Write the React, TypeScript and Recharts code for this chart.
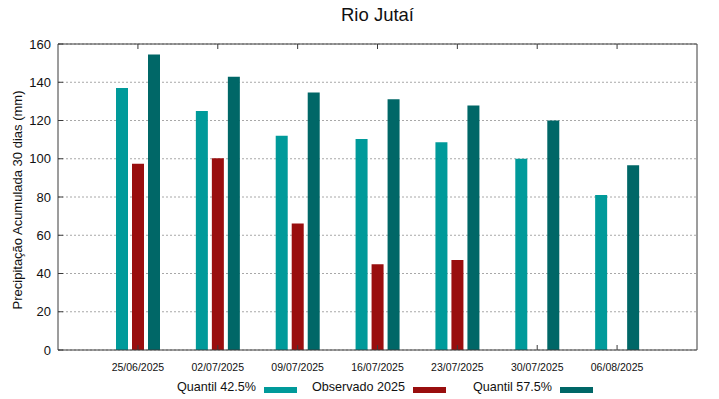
import React from 'react';
import {
  BarChart,
  Bar,
  XAxis,
  YAxis,
  CartesianGrid,
} from 'recharts';

// dates of each 30-day window
const DATES = ['25/06/2025', '02/07/2025', '09/07/2025', '16/07/2025', '23/07/2025', '30/07/2025', '06/08/2025'];
const Q425 = [137, 125, 112, 110.3, 108.6, 100, 81];
const OBS2025 = [97.4, 100.3, 66.2, 44.8, 47.1, null, null];
const Q575 = [154.5, 142.9, 134.6, 131.1, 127.8, 120, 96.6];
const Y_TICKS = [0, 20, 40, 60, 80, 100, 120, 140, 160];

const SERIES = [
  { key: 'q425', name: 'Quantil 42.5%', color: '#009a9a' },
  { key: 'obs', name: 'Observado 2025', color: '#990e0e' },
  { key: 'q575', name: 'Quantil 57.5%', color: '#006767' },
];

const chartData = DATES.map((d, i) => ({
  date: d,
  q425: Q425[i],
  obs: OBS2025[i],
  q575: Q575[i],
}));

const FONT = '"Liberation Sans", Arial, sans-serif';
const AXIS = '#3a3a3a';

// legend item positions (x where the text ends), gnuplot style key
const LEGEND_X = [256, 405, 552];

// mirrored axes: tick marks only, no labels
const NoLabel = () => <g />;

function YLabel() {
  return (
    <text
      x={17}
      y={200}
      transform="rotate(-90 17 200)"
      textAnchor="middle"
      dominantBaseline="central"
      fontFamily={FONT}
      fontSize={13}
      fill="#111"
    >
      Precipitação Acumulada 30 dias (mm)
    </text>
  );
}

export default function App() {
  return (
    <div style={{ position: 'absolute', left: 0, top: 0, width: 719, height: 399, background: '#fff', fontFamily: FONT }}>
      <div
        style={{
          position: 'absolute',
          left: 0,
          width: 755,
          top: 4,
          textAlign: 'center',
          fontSize: 18.5,
          color: '#111',
        }}
      >
        Rio Jutaí
      </div>
      <BarChart
        width={719}
        height={399}
        data={chartData}
        margin={{ top: 43, right: 21, bottom: 19, left: 0 }}
        barSize={12}
        barGap={4}
      >
        <CartesianGrid
          horizontal
          vertical={false}
          strokeDasharray="2 2"
          stroke="#a8a8a8"
        />
        <XAxis
          dataKey="date"
          height={30}
          padding={{ left: 40, right: 40 }}
          tick={{ fill: '#111', fontSize: 10.5, fontFamily: FONT }}
          tickSize={-5}
          tickMargin={19}
          interval={0}
          axisLine={{ stroke: AXIS }}
          tickLine={{ stroke: AXIS }}
        />
        <XAxis
          xAxisId="top"
          orientation="top"
          dataKey="date"
          height={1}
          padding={{ left: 40, right: 40 }}
          tick={<NoLabel />}
          tickSize={-5}
          interval={0}
          axisLine={{ stroke: AXIS }}
          tickLine={{ stroke: AXIS }}
        />
        <YAxis
          width={58}
          domain={[0, 160]}
          ticks={Y_TICKS}
          tick={{ fill: '#111', fontSize: 13, fontFamily: FONT }}
          tickSize={-5}
          tickMargin={12}
          axisLine={{ stroke: AXIS }}
          tickLine={{ stroke: AXIS }}
          label={<YLabel />}
        />
        <YAxis
          yAxisId="right"
          orientation="right"
          width={1}
          domain={[0, 160]}
          ticks={Y_TICKS}
          tick={<NoLabel />}
          tickSize={-5}
          axisLine={{ stroke: AXIS }}
          tickLine={{ stroke: AXIS }}
        />
        {SERIES.map(s => (
          <Bar key={s.key} dataKey={s.key} name={s.name} fill={s.color} isAnimationActive={false} />
        ))}
      </BarChart>
      {SERIES.map((s, i) => (
        <div key={s.key}>
          <div
            style={{
              position: 'absolute',
              right: 719 - LEGEND_X[i],
              top: 380,
              fontSize: 12.6,
              color: '#111',
              whiteSpace: 'nowrap',
            }}
          >
            {s.name}
          </div>
          <div
            style={{
              position: 'absolute',
              left: LEGEND_X[i] + 8,
              top: 386.5,
              width: 33,
              height: 6,
              background: s.color,
            }}
          />
        </div>
      ))}
    </div>
  );
}
